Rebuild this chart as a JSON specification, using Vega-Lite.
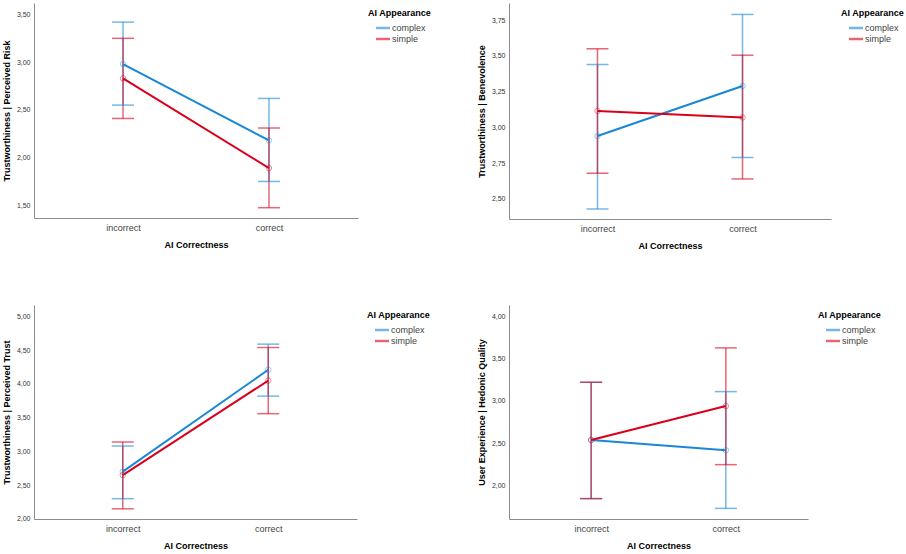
{
  "$schema": "https://vega.github.io/schema/vega-lite/v6.json",
  "padding": {"left": 2, "top": 3, "right": 0, "bottom": 0},
  "background": "white",
  "data": {"values": [
    {"panel": "risk", "correctness": "incorrect", "appearance": "complex", "mean": 2.98, "lo": 2.55, "hi": 3.42},
    {"panel": "risk", "correctness": "incorrect", "appearance": "simple", "mean": 2.83, "lo": 2.41, "hi": 3.25},
    {"panel": "risk", "correctness": "correct", "appearance": "complex", "mean": 2.18, "lo": 1.75, "hi": 2.62},
    {"panel": "risk", "correctness": "correct", "appearance": "simple", "mean": 1.89, "lo": 1.475, "hi": 2.31},
    {"panel": "ben", "correctness": "incorrect", "appearance": "complex", "mean": 2.94, "lo": 2.43, "hi": 3.44},
    {"panel": "ben", "correctness": "incorrect", "appearance": "simple", "mean": 3.115, "lo": 2.68, "hi": 3.55},
    {"panel": "ben", "correctness": "correct", "appearance": "complex", "mean": 3.29, "lo": 2.79, "hi": 3.79},
    {"panel": "ben", "correctness": "correct", "appearance": "simple", "mean": 3.07, "lo": 2.64, "hi": 3.505},
    {"panel": "trust", "correctness": "incorrect", "appearance": "complex", "mean": 2.70, "lo": 2.30, "hi": 3.08},
    {"panel": "trust", "correctness": "incorrect", "appearance": "simple", "mean": 2.65, "lo": 2.15, "hi": 3.14},
    {"panel": "trust", "correctness": "correct", "appearance": "complex", "mean": 4.21, "lo": 3.82, "hi": 4.59},
    {"panel": "trust", "correctness": "correct", "appearance": "simple", "mean": 4.05, "lo": 3.56, "hi": 4.54},
    {"panel": "hed", "correctness": "incorrect", "appearance": "complex", "mean": 2.54, "lo": 1.85, "hi": 3.22},
    {"panel": "hed", "correctness": "incorrect", "appearance": "simple", "mean": 2.54, "lo": 1.85, "hi": 3.22},
    {"panel": "hed", "correctness": "correct", "appearance": "complex", "mean": 2.42, "lo": 1.735, "hi": 3.11},
    {"panel": "hed", "correctness": "correct", "appearance": "simple", "mean": 2.94, "lo": 2.25, "hi": 3.625}
  ]},
  "columns": 2,
  "align": "each",
  "spacing": {"row": 55, "column": 39},
  "resolve": {"legend": {"color": "independent"}, "scale": {"y": "independent"}},
  "concat": [
    {
      "width": 324, "height": 215,
      "transform": [{"filter": "datum.panel === 'risk'"}],
      "encoding": {
        "x": {"field": "correctness", "type": "nominal", "scale": {"type": "point", "domain": ["incorrect", "correct"], "padding": 0.61}, "axis": {"title": "AI Correctness", "labelAngle": 0}},
        "color": {"field": "appearance", "type": "nominal", "scale": {"domain": ["complex", "simple"], "range": ["#1a87d6", "#d9001b"]}, "legend": {"title": "AI Appearance"}}
      },
      "layer": [
        {"mark": {"type": "rule", "opacity": 0.6, "strokeWidth": 1.5}, "encoding": {"y": {"field": "lo", "type": "quantitative", "title": "Trustworthiness | Perceived Risk", "scale": {"domain": [1.367, 3.62], "nice": false, "zero": false}, "axis": {"values": [1.5, 2, 2.5, 3, 3.5], "labelOverlap": false, "labelExpr": "replace(format(datum.value, '.2f'), '.', ',')"}}, "y2": {"field": "hi"}}},
        {"mark": {"type": "tick", "opacity": 0.6, "size": 22, "thickness": 1.5}, "encoding": {"y": {"field": "lo", "type": "quantitative", "title": "Trustworthiness | Perceived Risk"}}},
        {"mark": {"type": "tick", "opacity": 0.6, "size": 22, "thickness": 1.5}, "encoding": {"y": {"field": "hi", "type": "quantitative", "title": "Trustworthiness | Perceived Risk"}}},
        {"mark": {"type": "line", "strokeWidth": 2}, "encoding": {"y": {"field": "mean", "type": "quantitative", "title": "Trustworthiness | Perceived Risk"}}},
        {"mark": {"type": "point", "filled": false, "size": 30, "opacity": 0.45, "strokeWidth": 1}, "encoding": {"y": {"field": "mean", "type": "quantitative", "title": "Trustworthiness | Perceived Risk"}}}
      ]
    },
    {
      "width": 322, "height": 216,
      "transform": [{"filter": "datum.panel === 'ben'"}],
      "encoding": {
        "x": {"field": "correctness", "type": "nominal", "scale": {"type": "point", "domain": ["incorrect", "correct"], "padding": 0.61}, "axis": {"title": "AI Correctness", "labelAngle": 0}},
        "color": {"field": "appearance", "type": "nominal", "scale": {"domain": ["complex", "simple"], "range": ["#1a87d6", "#d9001b"]}, "legend": {"title": "AI Appearance"}}
      },
      "layer": [
        {"mark": {"type": "rule", "opacity": 0.6, "strokeWidth": 1.5}, "encoding": {"y": {"field": "lo", "type": "quantitative", "title": "Trustworthiness | Benevolence", "scale": {"domain": [2.36, 3.87], "nice": false, "zero": false}, "axis": {"values": [2.5, 2.75, 3, 3.25, 3.5, 3.75], "labelOverlap": false, "labelExpr": "replace(format(datum.value, '.2f'), '.', ',')"}}, "y2": {"field": "hi"}}},
        {"mark": {"type": "tick", "opacity": 0.6, "size": 22, "thickness": 1.5}, "encoding": {"y": {"field": "lo", "type": "quantitative", "title": "Trustworthiness | Benevolence"}}},
        {"mark": {"type": "tick", "opacity": 0.6, "size": 22, "thickness": 1.5}, "encoding": {"y": {"field": "hi", "type": "quantitative", "title": "Trustworthiness | Benevolence"}}},
        {"mark": {"type": "line", "strokeWidth": 2}, "encoding": {"y": {"field": "mean", "type": "quantitative", "title": "Trustworthiness | Benevolence"}}},
        {"mark": {"type": "point", "filled": false, "size": 30, "opacity": 0.45, "strokeWidth": 1}, "encoding": {"y": {"field": "mean", "type": "quantitative", "title": "Trustworthiness | Benevolence"}}}
      ]
    },
    {
      "width": 323, "height": 214,
      "transform": [{"filter": "datum.panel === 'trust'"}],
      "encoding": {
        "x": {"field": "correctness", "type": "nominal", "scale": {"type": "point", "domain": ["incorrect", "correct"], "padding": 0.61}, "axis": {"title": "AI Correctness", "labelAngle": 0}},
        "color": {"field": "appearance", "type": "nominal", "scale": {"domain": ["complex", "simple"], "range": ["#1a87d6", "#d9001b"]}, "legend": {"title": "AI Appearance"}}
      },
      "layer": [
        {"mark": {"type": "rule", "opacity": 0.6, "strokeWidth": 1.5}, "encoding": {"y": {"field": "lo", "type": "quantitative", "title": "Trustworthiness | Perceived Trust", "scale": {"domain": [1.999, 5.17], "nice": false, "zero": false}, "axis": {"values": [2, 2.5, 3, 3.5, 4, 4.5, 5], "tickCount": 7, "labelOverlap": false, "labelSeparation": 0, "labelExpr": "replace(format(datum.value, '.2f'), '.', ',')"}}, "y2": {"field": "hi"}}},
        {"mark": {"type": "tick", "opacity": 0.6, "size": 22, "thickness": 1.5}, "encoding": {"y": {"field": "lo", "type": "quantitative", "title": "Trustworthiness | Perceived Trust", "axis": {"values": [2, 2.5, 3, 3.5, 4, 4.5, 5], "labelOverlap": false}}}},
        {"mark": {"type": "tick", "opacity": 0.6, "size": 22, "thickness": 1.5}, "encoding": {"y": {"field": "hi", "type": "quantitative", "title": "Trustworthiness | Perceived Trust", "axis": {"values": [2, 2.5, 3, 3.5, 4, 4.5, 5], "labelOverlap": false}}}},
        {"mark": {"type": "line", "strokeWidth": 2}, "encoding": {"y": {"field": "mean", "type": "quantitative", "title": "Trustworthiness | Perceived Trust", "axis": {"values": [2, 2.5, 3, 3.5, 4, 4.5, 5], "labelOverlap": false}}}},
        {"mark": {"type": "point", "filled": false, "size": 30, "opacity": 0.45, "strokeWidth": 1}, "encoding": {"y": {"field": "mean", "type": "quantitative", "title": "Trustworthiness | Perceived Trust", "axis": {"values": [2, 2.5, 3, 3.5, 4, 4.5, 5], "labelOverlap": false}}}}
      ]
    },
    {
      "width": 299, "height": 214,
      "transform": [{"filter": "datum.panel === 'hed'"}],
      "encoding": {
        "x": {"field": "correctness", "type": "nominal", "scale": {"type": "point", "domain": ["incorrect", "correct"], "padding": 0.61}, "axis": {"title": "AI Correctness", "labelAngle": 0}},
        "color": {"field": "appearance", "type": "nominal", "scale": {"domain": ["complex", "simple"], "range": ["#1a87d6", "#d9001b"]}, "legend": {"title": "AI Appearance"}}
      },
      "layer": [
        {"mark": {"type": "rule", "opacity": 0.6, "strokeWidth": 1.5}, "encoding": {"y": {"field": "lo", "type": "quantitative", "title": "User Experience | Hedonic Quality", "scale": {"domain": [1.61, 4.13], "nice": false, "zero": false}, "axis": {"values": [2, 2.5, 3, 3.5, 4], "labelOverlap": false, "labelExpr": "replace(format(datum.value, '.2f'), '.', ',')"}}, "y2": {"field": "hi"}}},
        {"mark": {"type": "tick", "opacity": 0.6, "size": 22, "thickness": 1.5}, "encoding": {"y": {"field": "lo", "type": "quantitative", "title": "User Experience | Hedonic Quality"}}},
        {"mark": {"type": "tick", "opacity": 0.6, "size": 22, "thickness": 1.5}, "encoding": {"y": {"field": "hi", "type": "quantitative", "title": "User Experience | Hedonic Quality"}}},
        {"mark": {"type": "line", "strokeWidth": 2}, "encoding": {"y": {"field": "mean", "type": "quantitative", "title": "User Experience | Hedonic Quality"}}},
        {"mark": {"type": "point", "filled": false, "size": 30, "opacity": 0.45, "strokeWidth": 1}, "encoding": {"y": {"field": "mean", "type": "quantitative", "title": "User Experience | Hedonic Quality"}}}
      ]
    }
  ],
  "config": {
    "font": "Liberation Sans",
    "view": {"stroke": null},
    "axis": {"domainColor": "#8c8c8c", "domainWidth": 1, "ticks": false, "tickSize": 0, "grid": false, "labelOverlap": false, "labelFont": "Liberation Sans", "titleFont": "Liberation Sans", "titleFontWeight": "bold", "titleFontSize": 9, "titleColor": "#000000"},
    "axisY": {"labelFontSize": 7, "labelColor": "#333333", "labelPadding": 4, "titlePadding": 5},
    "axisX": {"labelFontSize": 9, "labelColor": "#444444", "labelPadding": 5, "titlePadding": 8},
    "legend": {"titleFont": "Liberation Sans", "titleFontSize": 9, "titleFontWeight": "bold", "titleColor": "#000000", "labelFont": "Liberation Sans", "labelFontSize": 9, "labelColor": "#444444", "symbolType": "M-1.55,0H1.55", "symbolStrokeWidth": 2.5, "symbolSize": 81, "symbolOffset": 9, "offset": 4, "padding": 6, "rowPadding": 0, "titlePadding": 4, "labelOffset": 3}
  }
}
